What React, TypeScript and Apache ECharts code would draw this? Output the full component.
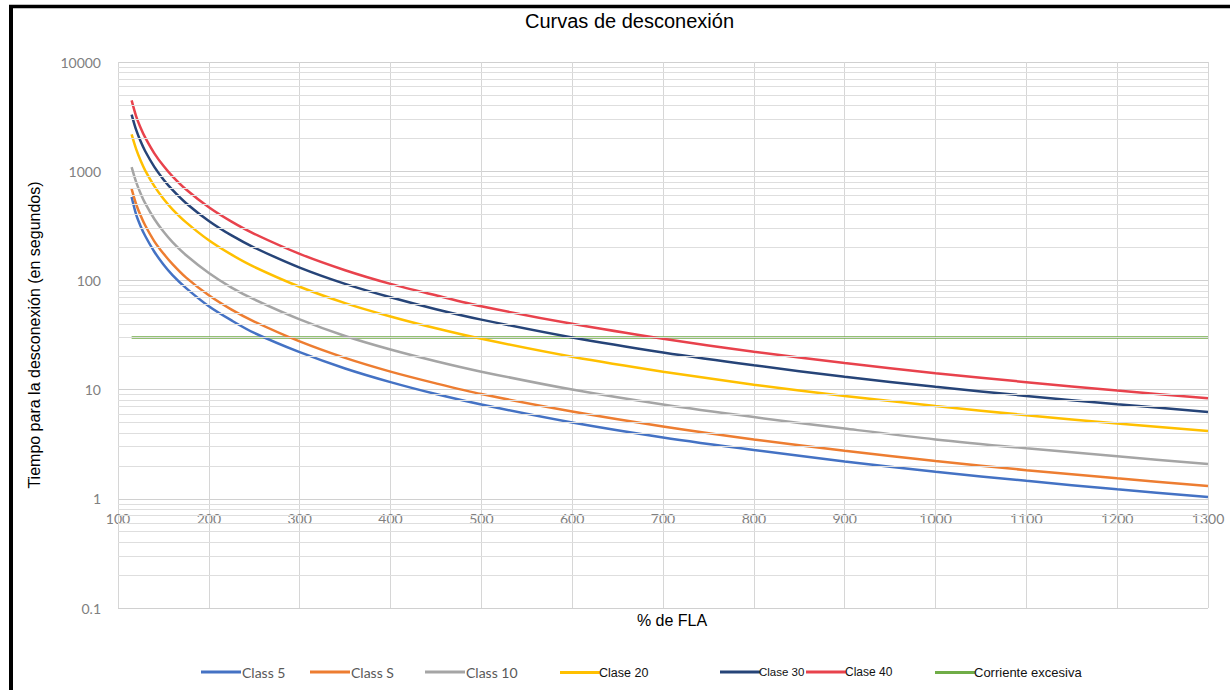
import React, { useEffect, useRef } from "react";
import * as echarts from "echarts";

// % de FLA sample points
const xPct = [115, 120, 125, 130, 140, 150, 160, 175, 200, 225, 250, 300, 350, 400, 450, 500, 600, 700, 800, 900, 1000, 1100, 1200, 1300];

// Trip times (seconds)
const class5 = [580, 400, 312, 255, 183, 140, 112, 85, 58, 43, 33, 22, 15.6, 11.7, 9.1, 7.3, 5.0, 3.65, 2.8, 2.2, 1.77, 1.46, 1.22, 1.04];
const classS = [690, 498, 390, 318, 228, 176, 141, 106, 73, 54, 42, 27.6, 19.5, 14.6, 11.4, 9.1, 6.3, 4.6, 3.5, 2.75, 2.22, 1.83, 1.54, 1.31];
const class10 = [1090, 795, 622, 507, 365, 280, 224, 170, 117, 86, 67, 44, 31, 23.3, 18.2, 14.6, 10, 7.3, 5.6, 4.4, 3.5, 2.9, 2.45, 2.08];
const clase20 = [2170, 1590, 1244, 1014, 730, 560, 448, 340, 233, 172, 133, 87.5, 62, 46.7, 36.4, 29.2, 20, 14.6, 11.1, 8.75, 7.07, 5.83, 4.9, 4.17];
const clase30 = [3300, 2386, 1867, 1522, 1094, 840, 673, 509, 350, 258, 200, 131, 93, 70, 54.5, 43.75, 30, 21.9, 16.7, 13.1, 10.6, 8.75, 7.34, 6.25];
const clase40 = [4450, 3182, 2489, 2029, 1458, 1120, 897, 679, 467, 345, 267, 175, 124, 93, 73, 58, 40, 29.2, 22.2, 17.5, 14.1, 11.7, 9.8, 8.33];
const corrienteX = [115, 1300];
const corrienteY = [30, 30];

const seriesNames = ["Class 5", "Class S", "Class 10", "Clase 20", "Clase 30", "Clase 40", "Corriente excesiva"];
const seriesColors = ["#4472C4", "#ED7D31", "#A5A5A5", "#FFC000", "#264478", "#E8424C", "#70AD47"];
const legendLeft = [196, 305, 420, 555, 715, 801, 930];
const legendFont = [14, 14, 14, 12.5, 11.5, 12, 13];

const yTicks = ["0.1", "1", "10", "100", "1000", "10000"];

export default function App() {
  const ref = useRef<HTMLDivElement>(null);
  useEffect(() => {
    if (!ref.current) return;
    const chart = echarts.init(ref.current, null, { renderer: "svg" });

    const curves = [class5, classS, class10, clase20, clase30, clase40];
    const lineSeries: any[] = curves.map((vals, i) => ({
      name: seriesNames[i],
      type: "line",
      data: xPct.map((x, j) => [x, vals[j]]),
      smooth: 0.3,
      showSymbol: false,
      symbol: "none",
      lineStyle: { color: seriesColors[i], width: 2.5 },
      itemStyle: { color: seriesColors[i] },
      z: 3,
    }));
    lineSeries.push({
      name: seriesNames[6],
      type: "line",
      data: corrienteX.map((x, j) => [x, corrienteY[j]]),
      showSymbol: false,
      symbol: "none",
      lineStyle: { color: seriesColors[6], width: 2.5 },
      itemStyle: { color: seriesColors[6] },
      z: 2,
    });

    // minor log gridlines (2..9 within each decade)
    const minor: any[] = [];
    const decades = yTicks.slice(0, -1).map(Number);
    decades.forEach((d) => {
      for (let m = 2; m <= 9; m++) minor.push({ yAxis: +(d * m).toPrecision(3) });
    });
    lineSeries.push({
      name: "minorGrid",
      type: "line",
      data: [],
      z: 1,
      silent: true,
      markLine: {
        silent: true,
        symbol: ["none", "none"],
        label: { show: false },
        lineStyle: { color: "#dedede", width: 1, type: "solid" },
        emphasis: { disabled: true },
        data: minor,
      },
    });

    const legends = seriesNames.map((n, i) => ({
      data: [n],
      left: legendLeft[i],
      top: i < 3 ? 660 : 661,
      icon: "rect",
      itemWidth: 40,
      itemHeight: 3,
      selectedMode: false,
      textStyle:
        i < 3
          ? { color: "#595959", fontFamily: "Lato", fontSize: legendFont[i], padding: [0, 0, 0, -4] }
          : { color: "#111", fontFamily: "Liberation Sans", fontSize: legendFont[i], padding: [0, 0, 0, -6] },
    }));

    chart.setOption({
      animation: false,
      backgroundColor: "#fff",
      title: {
        text: "Curvas de desconexión",
        left: 520,
        top: 6,
        textStyle: { fontFamily: "Liberation Sans", fontSize: 20, fontWeight: "normal", color: "#000" },
      },
      legend: legends,
      grid: { left: 118, right: 22, top: 62, bottom: 82 },
      xAxis: {
        type: "value",
        min: 100,
        max: 1300,
        interval: 100,
        offset: -109.2,
        axisLine: { show: false },
        axisTick: { show: false },
        axisLabel: {
          color: "#808080",
          fontFamily: "Lato",
          fontSize: 14,
          margin: 13,
          formatter: (v: number) => String(v),
        },
        splitLine: { show: true, lineStyle: { color: "#d6d6d6", width: 1 } },
        name: "% de FLA",
        nameLocation: "middle",
        nameGap: 114,
        nameTextStyle: { fontFamily: "Liberation Sans", fontSize: 16, color: "#000", padding: [0, 0, 0, 18] },
      },
      yAxis: {
        type: "log",
        logBase: 10,
        min: 0.1,
        max: 10000,
        axisLine: { show: false },
        axisTick: { show: false },
        axisLabel: {
          color: "#808080",
          fontFamily: "Lato",
          fontSize: 14,
          margin: 17,
          formatter: (v: number) => {
            const s = yTicks.find((t) => Math.abs(Number(t) - v) / v < 1e-6);
            return s ?? String(v);
          },
        },
        splitLine: { show: true, lineStyle: { color: "#d0d0d0", width: 1 } },
        name: "Tiempo para la desconexión (en segundos)",
        nameLocation: "middle",
        nameGap: 76,
        nameTextStyle: { fontFamily: "Liberation Sans", fontSize: 16, color: "#000" },
      },
      series: lineSeries,
      graphic: [
        { type: "line", shape: { x1: 11, y1: 5, x2: 11, y2: 690 }, style: { stroke: "#000", lineWidth: 4 }, z: 100 },
        { type: "line", shape: { x1: 9, y1: 6.5, x2: 1230, y2: 6.5 }, style: { stroke: "#000", lineWidth: 3.5 }, z: 100 },
      ],
    });
    return () => chart.dispose();
  }, []);
  return (
    <div
      ref={ref}
      style={{ position: "absolute", left: 0, top: 0, width: 1230, height: 690 }}
    />
  );
}
